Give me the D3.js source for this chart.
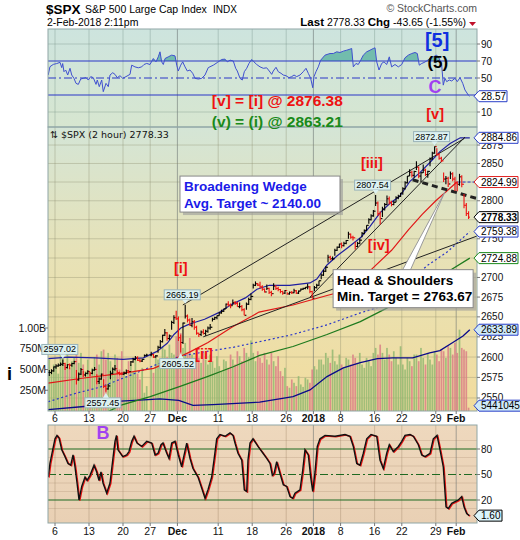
<!DOCTYPE html>
<html><head><meta charset="utf-8">
<script src="https://cdn.jsdelivr.net/npm/d3@7/dist/d3.min.js"></script>
<style>body{margin:0;background:#fff}svg{display:block;font-family:"Liberation Sans",Arial,sans-serif}</style>
</head><body><svg id="c" width="520" height="540"></svg>
<script>
// ---------- DATA ----------
const dayLabels = ["Nov 3","Nov 6","Nov 7","Nov 8","Nov 9","Nov 10","Nov 13","Nov 14","Nov 15","Nov 16","Nov 17","Nov 20","Nov 21","Nov 22","Nov 24","Nov 27","Nov 28","Nov 29","Nov 30",
"Dec 1","Dec 4","Dec 5","Dec 6","Dec 7","Dec 8","Dec 11","Dec 12","Dec 13","Dec 14","Dec 15","Dec 18","Dec 19","Dec 20","Dec 21","Dec 22","Dec 26","Dec 27","Dec 28","Dec 29",
"Jan 2","Jan 3","Jan 4","Jan 5","Jan 8","Jan 9","Jan 10","Jan 11","Jan 12","Jan 16","Jan 17","Jan 18","Jan 19","Jan 22","Jan 23","Jan 24","Jan 25","Jan 26","Jan 29","Jan 30","Jan 31","Feb 1","Feb 2"];
// 2-hour bars per day: [high, low, close]
const ohlc = [
[[2584,2576.8,2581],[2585,2579,2583],[2588.4,2582,2587.8]],
[[2591,2585.7,2589],[2592,2588,2590],[2593.4,2589,2591.1]],
[[2597.02,2589,2592],[2593,2584.1,2587],[2591,2586,2590.6]],
[[2592,2585,2590],[2593,2588,2592],[2595.5,2591,2594.4]],
[[2584,2566.3,2572],[2581,2571,2579],[2586.5,2578,2584.6]],
[[2583,2575.6,2578],[2581,2576,2580],[2583.8,2579,2582.3]],
[[2582,2576.5,2580],[2585,2579,2584],[2587.7,2583,2584.8]],
[[2579,2566.6,2570],[2575,2567,2573],[2579.7,2572,2578.9]],
[[2572.8,2562,2564],[2566,2557.45,2561],[2567,2560,2564.6]],
[[2583,2572.9,2580],[2587,2579,2585],[2590.1,2583,2585.6]],
[[2583.9,2579,2581],[2582,2577.6,2579],[2581,2578,2578.9]],
[[2582,2578.2,2580],[2584.6,2579,2583],[2584,2580,2582.1]],
[[2595,2589,2594],[2599,2593,2597],[2601.2,2596,2599]],
[[2600.9,2595,2596],[2598,2593.5,2595],[2598,2594,2597.1]],
[[2603,2600.4,2602],[2604.2,2601,2602.4]],
[[2606.4,2601,2603],[2604,2598.9,2600],[2602.5,2599,2601.4]],
[[2614,2605.4,2612],[2621,2611,2619],[2627.7,2618,2627]],
[[2634.9,2626,2630],[2631,2620.3,2623],[2628,2621,2626.1]],
[[2645,2633.9,2643],[2652,2641,2649],[2657.7,2646,2647.6]],
[[2650.6,2620,2624],[2628,2605.52,2618],[2643,2616,2642.2]],
[[2665.19,2648,2651],[2653,2643,2646],[2648,2639,2639.4]],
[[2648.7,2637,2644],[2646,2634,2637],[2639,2627.7,2629.6]],
[[2630,2624.8,2628],[2633,2626,2631],[2634.4,2628,2629.3]],
[[2634,2626.5,2632],[2638,2630,2636],[2641,2634,2637]],
[[2649,2644.1,2647],[2650,2646,2649],[2651.7,2647,2651.5]],
[[2656,2651.5,2655],[2659,2654,2657],[2660.3,2656,2660]],
[[2667,2659.8,2666],[2669.7,2663,2665],[2667,2661,2664.1]],
[[2671.9,2665,2668],[2670,2665,2667],[2669,2662.9,2662.9]],
[[2668.1,2661,2663],[2665,2657,2659],[2661,2652,2652]],
[[2668,2659.1,2666],[2674,2665,2672],[2679.6,2671,2675.8]],
[[2692,2685.9,2690],[2694.97,2689,2692],[2693,2689,2690.2]],
[[2694.4,2686,2688],[2690,2683,2685],[2686,2680.7,2681.5]],
[[2691,2684,2686],[2687,2679,2681],[2683,2676.1,2679.3]],
[[2692.6,2684,2689],[2690,2684,2686],[2688,2682.4,2684.6]],
[[2685.4,2680,2682],[2683,2678.1,2680],[2684,2679,2683.3]],
[[2681,2677.96,2679],[2682,2678,2681],[2682.7,2679,2680.5]],
[[2685.6,2680,2683],[2684,2678.9,2680],[2683.5,2679,2682.6]],
[[2686,2682.7,2685],[2687,2684,2686],[2687.7,2685,2687.5]],
[[2692.1,2685,2688],[2689,2680,2682],[2683,2673.6,2673.6]],
[[2689,2682.4,2687],[2692,2686,2690],[2695.9,2689,2695.8]],
[[2705,2697.8,2703],[2710,2702,2708],[2714.4,2707,2713.1]],
[[2729.3,2719.1,2726],[2728,2722,2724],[2727,2722,2724]],
[[2737,2727.9,2735],[2740,2734,2739],[2743.5,2738,2743.2]],
[[2745,2737.6,2741],[2746,2740,2744],[2748.5,2743,2747.7]],
[[2759.1,2750,2756],[2757,2750,2752],[2754,2747.9,2751.3]],
[[2746,2736.1,2740],[2746,2739,2744],[2750.8,2743,2748.2]],
[[2759,2752,2757],[2762,2756,2761],[2767.6,2760,2767.6]],
[[2777,2769.6,2775],[2782,2774,2780],[2787.9,2779,2786.2]],
[[2807.54,2793,2797],[2799,2780,2783],[2786,2768.6,2776.4]],
[[2792,2778.4,2789],[2797,2787,2795],[2807,2794,2802.6]],
[[2805.8,2795,2798],[2800,2792.6,2795],[2800,2794,2798]],
[[2806,2798.1,2804],[2808,2802,2806],[2810.3,2805,2810.3]],
[[2818,2808.1,2816],[2826,2815,2824],[2833,2823,2833]],
[[2842.2,2833,2838],[2840,2831,2834],[2840,2830.6,2839.1]],
[[2852.97,2841,2845],[2846,2830,2833],[2838,2824.8,2837.5]],
[[2848.6,2837,2841],[2843,2833,2835],[2840,2830.9,2839.3]],
[[2858,2846.2,2856],[2866,2855,2864],[2872.87,2863,2872.87]],
[[2870.6,2860,2862],[2864,2855,2857],[2859,2851.5,2853.5]],
[[2837.8,2825,2829],[2833,2822,2830],[2832,2818.3,2822.4]],
[[2839.3,2829,2836],[2838,2826,2829],[2832,2813,2823.8]],
[[2826,2812.7,2822],[2836,2820,2832],[2834,2818,2822]],
[[2808.9,2790,2794],[2797,2780,2783],[2786,2776,2778.33]]
];
// volume per bar, millions
const volumes = [
[620,480,560],[540,450,700],[650,560,720],[520,600,640],[760,580,700],[560,480,620],[470,520,650],[680,560,720],[740,620,700],[600,520,680],
[640,500,720],[480,420,600],[560,480,620],[450,380,520],[220,300],[520,460,640],[620,580,780],[740,650,800],[700,680,900],
[880,940,760],[820,700,880],[680,640,760],[640,580,700],[620,560,680],[600,520,660],[540,480,620],[600,520,680],[620,560,720],[660,600,760],[700,650,850],
[700,600,720],[640,580,700],[620,560,700],[600,540,660],[480,420,520],[300,280,380],[340,300,420],[320,290,400],[380,340,500],
[540,500,620],[620,560,700],[640,580,740],[600,560,680],[560,520,640],[620,560,680],[640,580,700],[560,520,640],[600,540,700],
[760,680,800],[700,620,760],[680,600,720],[640,560,780],[560,500,640],[600,540,680],[680,600,760],[640,560,700],[620,560,720],
[680,600,740],[720,640,780],[760,680,820],[700,980,760],[740,720,40]
];
// overlays: [trading-day index (0 = Nov 6), price]
const upperBand = [[-1,2598],[2,2600],[6,2599],[10,2597],[13,2599],[15,2607],[16.5,2617],[17.5,2628],[18.5,2636],[19.5,2640],[20.5,2643],[22,2647],[24,2655],[26,2666],[28,2674],[29.7,2685],[31.5,2690],[34.5,2690],[37.5,2693],[38.5,2698],[40,2716],[41.5,2728],[43,2738],[45,2752],[46.3,2766],[47.8,2784],[49.3,2797],[50.7,2806],[52.2,2826],[53.7,2838],[55.2,2852],[56.6,2866],[58.1,2877],[59.6,2884.86],[61,2884.86]];
const lowerBand = [[-1,2545.5],[3.2,2556],[6.6,2563],[10.6,2576],[15,2591],[18.4,2601],[22.4,2607],[26.2,2612],[30.1,2619],[35,2628],[40,2640],[44.9,2655],[48.3,2664],[54.7,2715],[57.7,2733],[61,2759.38]];
const redMA = [[-1,2568],[4,2574],[8,2578],[11.5,2582],[14.5,2586],[17.5,2597],[20,2607],[22.5,2618],[26,2637],[29,2651],[30,2656],[35,2665],[40,2677],[44,2686],[46.5,2710],[49.5,2735],[52,2762],[54,2782],[56,2800],[57.5,2812],[59.1,2824.99]];
const greenMA = [[7,2530],[9.6,2541],[14,2551.6],[18.4,2564],[22.4,2576],[26.2,2588],[30.1,2602],[35,2613],[40,2628],[44.9,2644],[48.8,2661],[57.7,2707],[61,2724.88]];
const navyMA = [[-1,2536],[4.7,2540],[9,2546],[13.7,2548],[15.4,2549],[18.2,2547],[20.3,2541],[23.2,2542],[30.1,2545],[35,2551.6],[37.5,2559.7],[40,2576],[42.4,2586.6],[44.9,2593],[47.4,2598],[49.7,2599],[52.6,2599],[55.1,2605],[56.6,2608],[58.5,2618],[60,2626],[61,2633.89]];
const rsi = [[-1,53.5],[-0.74,63.3],[-0.25,66],[0.25,67],[0.74,68.4],[0.99,62.2],[1.13,67],[1.32,57.4],[1.57,59.4],[1.87,53.5],[2.21,61.4],[2.46,53.5],[2.79,49.6],[3.09,43.7],[3.43,42.5],[3.78,48.8],[4.16,49.6],[4.56,50.4],[4.9,47.6],[5.25,51.6],[5.63,50.4],[6.03,42.5],[6.22,47.6],[6.51,39.8],[6.87,47.6],[7.1,33.9],[7.5,43.7],[7.84,39.8],[8.09,53.5],[8.49,56.2],[8.82,54.3],[9.16,50.4],[9.56,52.7],[9.96,49.6],[10.44,51.6],[11.03,54.3],[11.28,65.1],[11.76,63.1],[12.25,62],[12.75,63.1],[13.09,65.9],[13.49,67.1],[13.97,65.9],[14.46,72.9],[14.85,69],[15.19,74.9],[15.44,80.8],[15.69,69],[15.93,65.9],[16.18,72.9],[16.66,74.9],[17.16,76.9],[17.65,76],[17.9,65.1],[18.13,58.2],[18.49,65.1],[18.78,69],[19.12,63.1],[19.46,58.2],[19.85,59.4],[20.25,55.5],[20.59,49.6],[21.07,48.8],[21.57,49.6],[22.06,53.5],[22.54,62.2],[23.28,65.1],[23.87,68.2],[24.51,71.8],[25,72.2],[25.34,69],[25.74,71],[26.22,70],[26.57,61.4],[26.81,58.2],[27.21,49.6],[27.54,47.6],[27.84,57.4],[28.19,61.4],[28.53,67.2],[28.93,71.8],[29.26,69],[29.66,65.9],[30.15,63.1],[30.63,61.4],[31.13,62],[31.51,58.2],[31.87,54.3],[32.1,58.2],[32.5,62.6],[32.84,57.4],[33.24,55.5],[33.57,53.5],[33.97,52.7],[34.41,50.4],[34.81,51.6],[35.15,53.5],[35.54,51.6],[36.03,53.5],[36.51,57.4],[36.91,61.4],[37.25,55.5],[37.6,49.6],[37.9,38.6],[38.09,51.6],[38.38,57.4],[38.72,63.1],[39.07,71],[39.71,76.9],[40.44,78.8],[40.93,78.8],[41.43,80.8],[41.91,80],[42.4,81.6],[42.9,82.7],[43.38,83.9],[43.63,84.7],[43.87,63.1],[44.26,67.1],[44.6,65.9],[44.96,71],[45.34,76.9],[45.84,80.8],[46.32,82.7],[46.81,84.7],[47.06,85.5],[47.31,69],[47.65,59.4],[48.04,67.1],[48.38,69],[48.78,65.9],[49.16,74.9],[49.51,63.1],[50,65.9],[50.49,63.1],[50.99,65.9],[51.47,73.7],[51.96,76.9],[52.46,78.8],[52.94,80],[53.28,78.8],[53.57,65.1],[53.93,67.1],[54.26,68.2],[54.66,70],[55.15,73.3],[55.63,74.9],[56.13,76.9],[56.51,72.9],[56.87,65.1],[57.1,41.6],[57.35,49.6],[57.6,45.7],[57.99,47.6],[58.34,46.5],[58.82,49.6],[59.16,45.7],[59.56,50.4],[59.96,43.7],[60.29,35.9],[60.78,30],[60.96,28.57]];
const stoch = [[-1,47],[-0.74,63],[-0.34,79],[0,92],[0.29,96],[0.59,93],[0.99,79],[1.47,71],[1.91,63],[2.31,61],[2.65,73],[2.94,59],[3.24,40],[3.53,20],[3.93,36],[4.41,47],[4.71,43],[5.15,49],[5.74,61],[6.13,53],[6.47,43],[6.76,53],[7.06,40],[7.6,28],[8.09,40],[8.49,67],[8.82,89],[9.04,96],[9.26,79],[9.96,71],[10.54,73],[10.88,77],[11.28,89],[11.62,95],[12.06,87],[12.75,83],[13.49,89],[14.22,87],[14.71,73],[15.15,75],[15.59,85],[15.88,87],[16.43,75],[16.76,69],[17.16,87],[17.65,89],[18.13,73],[18.63,59],[18.82,67],[19.37,87],[19.85,69],[20.29,57],[21.03,47],[21.57,34],[22.06,22],[22.5,32],[23.04,47],[23.38,67],[23.78,92],[24.26,97],[25,95],[25.74,99],[26.18,96],[26.47,87],[26.91,75],[27.46,67],[27.84,32],[28.19,30],[28.38,67],[28.68,87],[29.12,92],[29.85,83],[30.59,75],[31.13,69],[31.62,63],[31.96,49],[32.21,51],[32.6,65],[33.09,51],[33.57,38],[34.07,36],[34.56,24],[34.96,22],[35.29,28],[36.03,32],[36.43,55],[36.76,79],[37.25,73],[37.6,47],[37.9,30],[38.24,53],[38.57,83],[38.97,92],[39.71,96],[41.18,95],[42.65,97],[43.38,95],[43.87,83],[44.37,63],[44.85,61],[45.34,75],[45.84,92],[46.47,97],[47.31,95],[47.79,67],[48.28,57],[48.78,75],[49.16,85],[49.75,77],[50.49,83],[50.99,89],[51.47,96],[52.21,97],[52.69,95],[53.43,85],[53.93,73],[54.41,71],[55.15,75],[55.63,92],[56.18,96],[56.62,79],[57.1,59],[57.5,12],[57.84,10],[58.34,16],[58.82,18],[59.31,20],[59.81,24],[60.15,12],[60.54,4],[60.93,1.6]];

const xTicks = [[0,"6"],[5,"13"],[10,"20"],[14,"27"],[18,"Dec"],[24,"11"],[29,"18"],[34,"26"],[38,"2018"],[42,"8"],[47,"16"],[51,"22"],[56,"29"],[59,"Feb"]];
const boldTicks = ["Dec","2018","Feb"];
const priceTicks = [2875,2850,2825,2800,2775,2750,2725,2700,2675,2650,2625,2600,2575,2550];
const priceTickLabels = [2875,2850,2800,2750,2700,2675,2650,2625,2600,2575,2550];
const volTicks = [[250,"250M"],[500,"500M"],[750,"750M"],[1000,"1.00B"]];
const rsiTicks = [90,70,50,10];
const stochTicks = [80,50,20];
const priceTags = [
 {v:2884.86,stroke:"#2a3fc8",fill:"#fff"},
 {v:2824.99,stroke:"#e02020",fill:"#fff"},
 {v:2778.33,stroke:"#000",fill:"#fff",bold:true},
 {v:2759.38,stroke:"#2a3fc8",fill:"#fff"},
 {v:2724.88,stroke:"#1a8a1a",fill:"#fff"},
 {v:2633.89,stroke:"#2a3fc8",fill:"#cfe9f7"}];
const callouts = [
 {day:2,bar:0,p:2597.02,above:true},{day:8,bar:1,p:2557.45,above:false},
 {day:19,bar:1,p:2605.52,above:false},{day:20,bar:0,p:2665.19,above:true},
 {day:48,bar:0,p:2807.54,above:true},{day:56,bar:2,p:2872.87,above:true}];
const waveLabels = [{t:"[i]",d:18.5,p:2712},{t:"[ii]",d:21.9,p:2604},{t:"[iii]",d:46.6,p:2851},{t:"[iv]",d:47.6,p:2742},{t:"[v]",d:55.9,p:2918}];
const trendLines = [[[18.8,2665],[60.2,2884]],[[37.5,2675],[60.3,2886]],[[21.8,2625],[62.2,2754]]];
const neckline = [[52.6,2828],[62.2,2802.6]];

// ---------- SETUP ----------
const svg = d3.select("#c");
const L = 48, R = 477;
const P1 = {t:29,b:127}, P2 = {t:127,b:411}, P3 = {t:425,b:523};
const x = d3.scaleLinear().domain([0,59]).range([55,55+6.8*59]);
const yP = d3.scaleLog().domain([2534.3,2899.7]).range([411,127]);
const yV = d3.scaleLinear().domain([0,1000]).range([411,328]);
const yR = d3.scaleLinear().domain([0,100]).range([120.5,35.5]);
const yS = d3.scaleLinear().domain([0,100]).range([517,432]);

const defs = svg.append("defs");
function grad(id, stops){ const g=defs.append("linearGradient").attr("id",id).attr("x1",0).attr("y1",0).attr("x2",0).attr("y2",1);
 stops.forEach(s=>g.append("stop").attr("offset",s[0]).attr("stop-color",s[1])); }
grad("gR",[[0,"#cde4de"],[1,"#d7e6d0"]]);
grad("gM",[[0,"#d4e5d6"],[0.45,"#e7e2b7"],[1,"#f2dc9d"]]);
grad("gS",[[0,"#eed8bd"],[1,"#e9d0b4"]]);
function clip(id,t,b){ defs.append("clipPath").attr("id",id).append("rect").attr("x",L).attr("y",t).attr("width",R-L).attr("height",b-t); }
clip("c1",P1.t,P1.b); clip("c2",P2.t,P2.b); clip("c3",P3.t,P3.b);
defs.append("clipPath").attr("id","c70").append("rect").attr("x",L).attr("y",P1.t).attr("width",R-L).attr("height",yR(70)-P1.t);

svg.append("rect").attr("x",L).attr("y",P1.t).attr("width",R-L).attr("height",P1.b-P1.t).attr("fill","url(#gR)");
svg.append("rect").attr("x",L).attr("y",P2.t).attr("width",R-L).attr("height",P2.b-P2.t).attr("fill","url(#gM)");
svg.append("rect").attr("x",L).attr("y",P3.t).attr("width",R-L).attr("height",P3.b-P3.t).attr("fill","url(#gS)");

[[P1,"rgba(110,140,130,0.35)"],[P2,"rgba(130,130,100,0.33)"],[P3,"rgba(150,120,90,0.33)"]].forEach(([P,c])=>{
 svg.append("g").selectAll("line").data(xTicks).join("line")
  .attr("x1",d=>x(d[0])).attr("x2",d=>x(d[0])).attr("y1",P.t).attr("y2",P.b)
  .attr("stroke",d=>boldTicks.includes(d[1])?"rgba(100,110,110,0.55)":c).attr("stroke-width",1);
});
svg.append("g").selectAll("line").data([10,90]).join("line").attr("x1",L).attr("x2",R).attr("y1",d=>yR(d)).attr("y2",d=>yR(d)).attr("stroke","rgba(110,140,130,0.35)");
svg.append("g").selectAll("line").data(priceTicks).join("line").attr("x1",L).attr("x2",R).attr("y1",d=>yP(d)).attr("y2",d=>yP(d)).attr("stroke","rgba(130,130,100,0.33)");
svg.append("g").selectAll("line").data([10,30,40,60,70,90]).join("line").attr("x1",L).attr("x2",R).attr("y1",d=>yS(d)).attr("y2",d=>yS(d)).attr("stroke","rgba(150,120,90,0.22)");

// ---------- RSI PANEL ----------
const g1 = svg.append("g").attr("clip-path","url(#c1)");
const rl = d3.line().x(d=>x(d[0])).y(d=>yR(d[1]));
const ra = d3.area().x(d=>x(d[0])).y0(yR(70)).y1(d=>yR(d[1]));
g1.append("path").datum(rsi).attr("d",ra).attr("fill","#72bcad").attr("clip-path","url(#c70)");
[70,30].forEach(v=>g1.append("line").attr("x1",L).attr("x2",R).attr("y1",yR(v)).attr("y2",yR(v)).attr("stroke","#2a36c8").attr("stroke-width",1.2));
g1.append("line").attr("x1",L).attr("x2",R).attr("y1",yR(50)).attr("y2",yR(50)).attr("stroke","#2a36c8").attr("stroke-dasharray","8,3,2,3");
g1.append("path").datum(rsi).attr("d",rl).attr("fill","none").attr("stroke","#3f4fd0").attr("stroke-width",1);

// ---------- MAIN PANEL ----------
const g2 = svg.append("g").attr("clip-path","url(#c2)");
const flat = []; let prev = null;
ohlc.forEach((day,i)=>{ const d=i-1; day.forEach((b,j)=>{ const [h,l,c]=b; flat.push({pos:d+0.15+j*0.335,h,l,c,o:prev==null?c:prev,up:prev==null?true:c>=prev,v:volumes[i][j]}); prev=c; }); });
g2.append("g").selectAll("rect").data(flat).join("rect")
 .attr("x",d=>x(d.pos)-0.85).attr("width",1.7).attr("y",d=>yV(d.v)).attr("height",d=>yV(0)-yV(d.v))
 .attr("fill",d=>d.up?"#93b872":"#d98086").attr("opacity",0.85);
const pl = d3.line().x(d=>x(d[0])).y(d=>yP(d[1]));
g2.append("path").datum(navyMA).attr("d",pl).attr("fill","none").attr("stroke","#0a0a8a").attr("stroke-width",1.3);
g2.append("path").datum(greenMA).attr("d",pl).attr("fill","none").attr("stroke","#1d7a1d").attr("stroke-width",1.2);
g2.append("path").datum(lowerBand).attr("d",pl).attr("fill","none").attr("stroke","#2a36c8").attr("stroke-width",1.2).attr("stroke-dasharray","2,2.5");
g2.append("path").datum(redMA).attr("d",pl).attr("fill","none").attr("stroke","#e01818").attr("stroke-width",1.2);
g2.append("line").attr("x1",x(59.2)).attr("x2",R).attr("y1",yP(2824.99)).attr("y2",yP(2824.99)).attr("stroke","#2a36c8").attr("stroke-dasharray","3,2");
g2.append("path").datum(upperBand).attr("d",pl).attr("fill","none").attr("stroke","#1f1fa0").attr("stroke-width",1.2);
trendLines.forEach(t=>g2.append("path").datum(t).attr("d",pl).attr("stroke","#222").attr("stroke-width",1).attr("fill","none"));
g2.append("path").datum(neckline).attr("d",pl).attr("stroke","#222").attr("stroke-width",3).attr("stroke-dasharray","6,4").attr("fill","none");
const bg = g2.append("g");
flat.forEach(d=>{
 const cx=x(d.pos), col=d.up?"#000":"#ee1111";
 bg.append("line").attr("x1",cx).attr("x2",cx).attr("y1",yP(d.h)).attr("y2",yP(d.l)).attr("stroke",col).attr("stroke-width",1.1);
 bg.append("line").attr("x1",cx-1.4).attr("x2",cx).attr("y1",yP(d.o)).attr("y2",yP(d.o)).attr("stroke",col).attr("stroke-width",1);
 bg.append("line").attr("x1",cx).attr("x2",cx+1.4).attr("y1",yP(d.c)).attr("y2",yP(d.c)).attr("stroke",col).attr("stroke-width",1);
});

// ---------- STOCH PANEL ----------
const g3 = svg.append("g").attr("clip-path","url(#c3)");
[80,20].forEach(v=>g3.append("line").attr("x1",L).attr("x2",R).attr("y1",yS(v)).attr("y2",yS(v)).attr("stroke","#1f6a22").attr("stroke-width",1.2));
g3.append("line").attr("x1",L).attr("x2",R).attr("y1",yS(50)).attr("y2",yS(50)).attr("stroke","#1f6a22").attr("stroke-dasharray","8,3,2,3");
const sl = d3.line().x(d=>x(d[0])).y(d=>yS(d[1]));
g3.append("path").datum(stoch).attr("d",sl).attr("fill","none").attr("stroke","#ee1111").attr("stroke-width",1.3).attr("transform","translate(0.9,0.6)");
g3.append("path").datum(stoch).attr("d",sl).attr("fill","none").attr("stroke","#111").attr("stroke-width",1.4);

[P1,P2,P3].forEach(P=>svg.append("rect").attr("x",L).attr("y",P.t).attr("width",R-L).attr("height",P.b-P.t).attr("fill","none").attr("stroke","#8fa6a6"));

// ---------- AXES ----------
const ax = svg.append("g").attr("font-size",10).attr("fill","#111");
function rlab(y,t){ ax.append("line").attr("x1",R).attr("x2",R+3).attr("y1",y).attr("y2",y).attr("stroke","#777");
 ax.append("text").attr("x",R+4).attr("y",y+3.5).text(t); }
rsiTicks.forEach(v=>rlab(yR(v),v));
priceTickLabels.forEach(v=>rlab(yP(v),v));
stochTicks.forEach(v=>rlab(yS(v),v));
volTicks.forEach(([v,t])=>{ ax.append("line").attr("x1",L-3).attr("x2",L).attr("y1",yV(v)).attr("y2",yV(v)).attr("stroke","#777");
 ax.append("text").attr("x",L-2).attr("y",yV(v)+3.5).attr("text-anchor","end").attr("font-size",10.5).text(t); });
[[P2.b,422],[P3.b,535]].forEach(([yb,yt])=>{
 xTicks.forEach(([d,t])=>{ ax.append("line").attr("x1",x(d)).attr("x2",x(d)).attr("y1",yb).attr("y2",yb+3).attr("stroke","#777");
  ax.append("text").attr("x",x(d)).attr("y",yt).attr("text-anchor","middle").attr("font-weight",boldTicks.includes(t)?"bold":"normal").attr("font-size",10.5).text(t); });
});
svg.append("text").attr("x",7).attr("y",380).attr("font-size",18).attr("font-weight","bold").text("i");

// ---------- TAGS ----------
function tag(y,t,stroke,fill,bold,w){ const tip=474,h=11;
 svg.append("path").attr("d",`M${tip},${y}L${tip+5},${y-h/2}L${tip+5+w},${y-h/2}L${tip+5+w},${y+h/2}L${tip+5},${y+h/2}Z`)
  .attr("fill",fill).attr("stroke",stroke).attr("stroke-width",1);
 svg.append("text").attr("x",tip+7).attr("y",y+3.6).attr("font-size",10).attr("font-weight",bold?"bold":"normal").text(t); }
priceTags.forEach(p=>tag(yP(p.v),p.v.toFixed(2),p.stroke,p.fill,p.bold,39));
tag(yR(28.57),"28.57","#2a3fc8","#fff",false,28);
tag(yV(flat[flat.length-1].v)-2,"5441045","#2a3fc8","#cfe9f7",false,45);
tag(yS(1.6),"1.60","#000","#dcf5fa",false,23);

// ---------- CALLOUTS ----------
callouts.forEach(c=>{
 const pos=c.day-1+0.15+c.bar*0.335; const px=x(pos), py=yP(c.p);
 const w=36,h=10, cx=px-3;
 const by = c.above? py-5-h : py+6;
 const g=svg.append("g");
 g.append("rect").attr("x",cx-w/2).attr("y",by).attr("width",w).attr("height",h).attr("fill","#dcf1f1").attr("stroke","#9ab3b8");
 const ty = c.above? by+h : by;
 g.append("path").attr("d",`M${px-3},${ty}L${px+3},${ty}L${px},${c.above?py-1:py+1}Z`).attr("fill","#dcf1f1").attr("stroke","none");
 g.append("text").attr("x",cx).attr("y",by+8).attr("text-anchor","middle").attr("font-size",9).text(c.p.toFixed(2));
});

// ---------- WAVE LABELS ----------
waveLabels.forEach(w=>svg.append("text").attr("x",x(w.d)).attr("y",yP(w.p)).attr("dy","0.35em").attr("text-anchor","middle").attr("font-size",14.5).attr("font-weight","bold").attr("fill","#ee1111").text(w.t));
[{t:"[5]",d:56.2,v:94.7,c:"#1030e0",s:20},{t:"(5)",d:56.3,v:68.8,c:"#000",s:17},{t:"C",d:55.9,v:39.4,c:"#a040f0",s:18}]
 .forEach(w=>svg.append("text").attr("x",x(w.d)).attr("y",yR(w.v)).attr("dy","0.35em").attr("text-anchor","middle").attr("font-size",w.s).attr("font-weight","bold").attr("fill",w.c).text(w.t));
svg.append("text").attr("x",x(7.06)).attr("y",yS(98.8)).attr("dy","0.35em").attr("text-anchor","middle").attr("font-size",18).attr("font-weight","bold").attr("fill","#a040f0").text("B");
svg.append("text").attr("x",x(32.7)).attr("y",yR(17)).attr("text-anchor","middle").attr("font-size",15.5).attr("font-weight","bold").attr("fill","#ee1111").text("[v] = [i] @ 2876.38");
svg.append("text").attr("x",x(32.7)).attr("y",yR(-7.6)).attr("text-anchor","middle").attr("font-size",15.5).attr("font-weight","bold").attr("fill","#1a8a1a").text("(v) = (i) @ 2863.21");

// ---------- ANNOTATION BOXES ----------
function box(d,p,w,h,lines,color){ const bx=x(d), by=yP(p);
 svg.append("rect").attr("x",bx+3).attr("y",by+3).attr("width",w).attr("height",h).attr("fill","#999").attr("opacity",0.6);
 svg.append("rect").attr("x",bx).attr("y",by).attr("width",w).attr("height",h).attr("fill","#fff").attr("stroke","#888");
 lines.forEach((t,i)=>svg.append("text").attr("x",bx+4).attr("y",by+15+i*16.5).attr("font-size",13.5).attr("font-weight","bold").attr("fill",color).text(t));
 return [bx,by]; }
box(18.38,2833,160,36,["Broadening Wedge","Avg. Target ~ 2140.00"],"#1a1ae8");
const hs = [x(40.9), yP(2710)];
svg.append("path").attr("d",`M${hs[0]+69},${hs[1]+1}L${hs[0]+77},${hs[1]+1}L${x(57.35)},${yP(2812)}Z`).attr("fill","#fff").attr("stroke","#999");
box(40.9,2710,140,38,["Head & Shoulders","Min. Target = 2763.67"],"#000");

// ---------- HEADER ----------
svg.append("text").attr("x",46).attr("y",14).attr("font-size",13.5).attr("font-weight","bold").text("$SPX");
svg.append("text").attr("x",85).attr("y",13).attr("font-size",10.5).text("S&P 500 Large Cap Index");
svg.append("text").attr("x",213).attr("y",13).attr("font-size",10).text("INDX");
svg.append("text").attr("x",477).attr("y",12).attr("text-anchor","end").attr("font-size",10.5).attr("fill","#555").text("© StockCharts.com");
svg.append("text").attr("x",47).attr("y",26).attr("font-size",10.5).text("2-Feb-2018 2:11pm");
const hdr = svg.append("text").attr("x",466).attr("y",26).attr("text-anchor","end").attr("font-size",10.5);
hdr.append("tspan").attr("font-weight","bold").attr("font-size",11.5).text("Last");
hdr.append("tspan").text(" 2778.33  ");
hdr.append("tspan").attr("font-weight","bold").attr("font-size",11.5).text("Chg");
hdr.append("tspan").text(" -43.65 (-1.55%)");
svg.append("path").attr("d","M469,22L476,22L472.5,26Z").attr("fill","#c0102a");
svg.append("text").attr("x",50).attr("y",138).attr("font-family","DejaVu Sans").attr("font-size",9.5).attr("fill","#111").text("⇅ $SPX (2 hour) 2778.33");
</script></body></html>
